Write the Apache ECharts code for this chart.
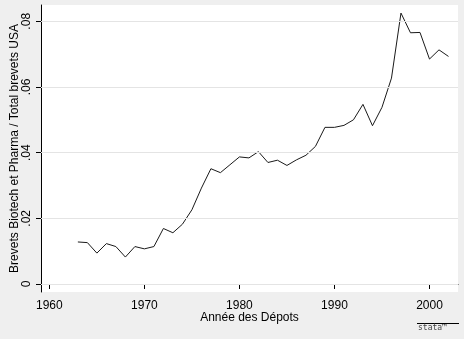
<!DOCTYPE html>
<html>
<head>
<meta charset="utf-8">
<script src="https://cdn.jsdelivr.net/npm/echarts@6/dist/echarts.min.js"></script>
<style>
html,body{margin:0;padding:0;background:#efefef;}
#chart{width:464px;height:339px;}
</style>
</head>
<body>
<div id="chart"></div>
<script>
var years = [1963,1964,1965,1966,1967,1968,1969,1970,1971,1972,1973,1974,1975,1976,1977,1978,1979,1980,1981,1982,1983,1984,1985,1986,1987,1988,1989,1990,1991,1992,1993,1994,1995,1996,1997,1998,1999,2000,2001,2002];
var ratio = [0.0128,0.0126,0.0094,0.0123,0.0114,0.0082,0.0114,0.0107,0.0114,0.0169,0.0156,0.0182,0.0226,0.0292,0.0351,0.0339,0.0363,0.0387,0.0384,0.0403,0.0370,0.0377,0.0361,0.0378,0.0392,0.0419,0.0477,0.0477,0.0483,0.0500,0.0547,0.0482,0.0538,0.0627,0.0825,0.0765,0.0766,0.0685,0.0713,0.0693];
var xTicks = [1960,1970,1980,1990,2000];
var yTicks = [0,0.02,0.04,0.06,0.08];
var yTickLabels = ['0','.02','.04','.06','.08'];
var xTitle = 'Année des Dépots';
var yTitle = 'Brevets Biotech et Pharma / Total brevets USA';

var chart = echarts.init(document.getElementById('chart'));
var font = 'Liberation Sans, Arial, sans-serif';
chart.setOption({
  backgroundColor: '#efefef',
  animation: false,
  grid: {left: 41, right: 6, top: 5, bottom: 47, show: true, backgroundColor: '#ffffff', borderWidth: 0, containLabel: false, outerBoundsMode: 'none'},
  xAxis: {
    type: 'value', min: 1959.12, max: 2003,
    name: xTitle, nameLocation: 'middle', nameGap: 20, nameMoveOverlap: false,
    nameTextStyle: {fontFamily: font, fontSize: 12, color: '#000'},
    axisLine: {show: true, lineStyle: {color: '#000', width: 1}},
    axisTick: {show: true, customValues: xTicks, length: 5, lineStyle: {color: '#000'}},
    axisLabel: {customValues: xTicks, fontFamily: font, fontSize: 12, color: '#000', margin: 8,
      formatter: function (v) { return String(v); }},
    splitLine: {show: false}
  },
  yAxis: {
    type: 'value', min: -0.00244, max: 0.08496,
    name: yTitle, nameLocation: 'middle', nameGap: 20, nameRotate: 90, nameMoveOverlap: false,
    nameTextStyle: {fontFamily: font, fontSize: 12, color: '#000'},
    axisLine: {show: true, lineStyle: {color: '#000', width: 1}},
    axisTick: {show: true, customValues: yTicks, length: 5, lineStyle: {color: '#000'}},
    axisLabel: {customValues: yTicks, rotate: 90, fontFamily: font, fontSize: 12, color: '#000', margin: 8,
      formatter: function (v) { var i = yTicks.indexOf(v); return i >= 0 ? yTickLabels[i] : ''; }},
    splitLine: {show: false}
  },
  series: [{
    type: 'line',
    data: years.map(function (y, i) { return [y, ratio[i]]; }),
    showSymbol: false,
    lineStyle: {color: '#1a1a1a', width: 1},
    markLine: {
      silent: true, symbol: 'none', label: {show: false},
      lineStyle: {color: '#e4e4e4', width: 1, type: 'solid'},
      data: yTicks.map(function (v) { return {yAxis: v}; })
    },
    z: 3
  }],
  graphic: [
    {type: 'line', shape: {x1: 417, y1: 323.5, x2: 459, y2: 323.5}, style: {stroke: '#000', lineWidth: 1}},
    {type: 'text', left: 418, top: 324, style: {text: 'stata\u2122', fontFamily: 'DejaVu Sans Mono, monospace', fontSize: 8, fill: '#444', letterSpacing: 1}}
  ]
});
</script>
</body>
</html>
